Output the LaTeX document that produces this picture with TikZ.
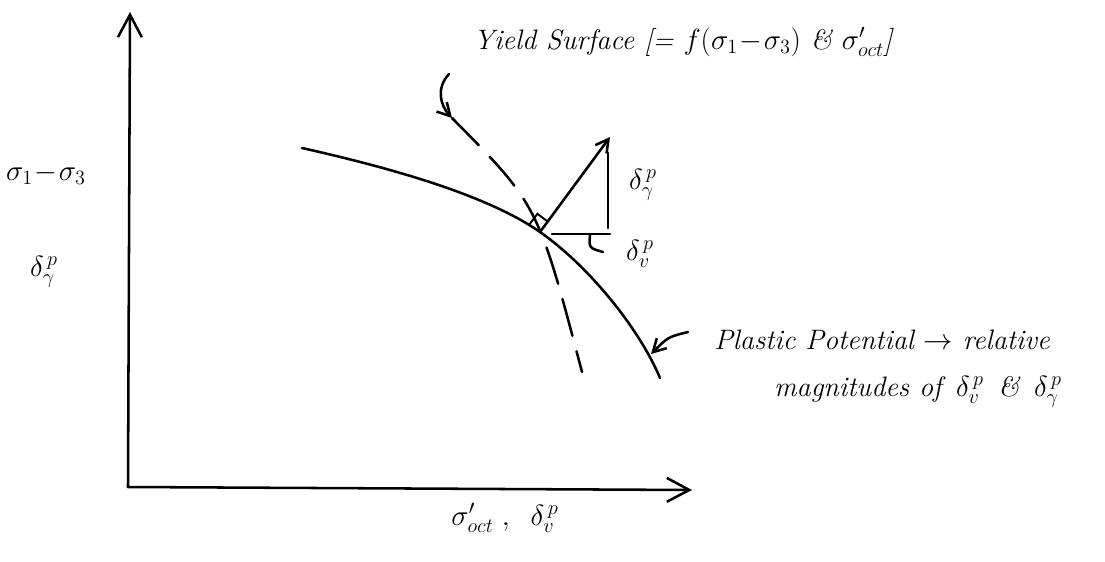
\documentclass[tikz,border=0pt]{standalone}
\usepackage{tikz}
\usetikzlibrary{arrows.meta}

\begin{document}
\begin{tikzpicture}[x=0.025cm,y=-0.025cm,>={Straight Barb[length=9pt,width=10pt]},
  hand/.style={line width=1.8pt,line cap=round},
  axis/.style={hand,-{Straight Barb[length=16pt,width=17pt]}},
  lbl/.style={font=\fontsize{20}{24}\selectfont\itshape,inner sep=0pt}]
\useasboundingbox (0,0) rectangle (1105,561);
% axes
\coordinate (O) at (128,487);
\coordinate (ytop) at (130,12);
\coordinate (xend) at (692,490);
\draw[axis] (O)--(ytop);
\draw[axis] (O)--(xend);
\node[lbl] (sdev) at (46,174) {$\sigma_1\!-\!\sigma_3$};
\node[lbl] (dgam) at (44,272) {$\delta_\gamma^{\,p}$};
\node[lbl] (xlab) at (505,518) {$\sigma'_{oct}\;,\;\;\delta_v^{\,p}$};
% plastic potential and yield surface
\coordinate (F) at (540,232);
\coordinate (ys) at (452,118);
\coordinate (ye) at (582,372);
\draw[hand] (302,148) .. controls (400,170) and (490,197) .. (F)
  .. controls (590,267) and (640,330) .. (660,378);
\draw[hand,dash pattern=on 0.95cm off 0.4cm] (ys) .. controls (538,205) .. (ye);
% plastic strain increment
\coordinate (tip) at (610,137);
\draw[hand,->] (F)--(tip);
\draw[line width=1.4pt] (F) ++(-10.4,-7.8) -- ++(7.8,-10.4) -- ++(10.4,7.8);
\coordinate (vtop) at (608,153);
\coordinate (vbot) at (608,228);
\coordinate (hl) at (552,234);
\coordinate (hr) at (610,234);
\draw[hand] (vtop)--(vbot);
\draw[hand] (hl)--(hr);
\node[lbl] (dg) at (643,185) {$\delta_\gamma^{\,p}$};
\node[lbl] (dv) at (640,254) {$\delta_v^{\,p}$};
\coordinate (ldr) at (603,252);
\draw[hand] (590,235) .. controls (589,248) .. (ldr);
% labels
\node[lbl] (yield) at (683,42) {Yield Surface [= $f(\sigma_1\!-\!\sigma_3)$ \& $\sigma'_{oct}$]};
\coordinate (ya) at (449,74);
\draw[hand,->] (ya) .. controls (436,88) and (440,105) .. (ys);
\node[lbl] (pp) at (882,340) {Plastic Potential $\rightarrow$ relative};
\node[lbl] (pp2) at (918,392) {magnitudes of\, $\delta_v^{\,p}$ \,\&\, $\delta_\gamma^{\,p}$};
\coordinate (pa) at (688,332);
\coordinate (pt) at (651,354);
\draw[hand,->] (pa) .. controls (668,337) .. (pt);
\end{tikzpicture}
\end{document}
